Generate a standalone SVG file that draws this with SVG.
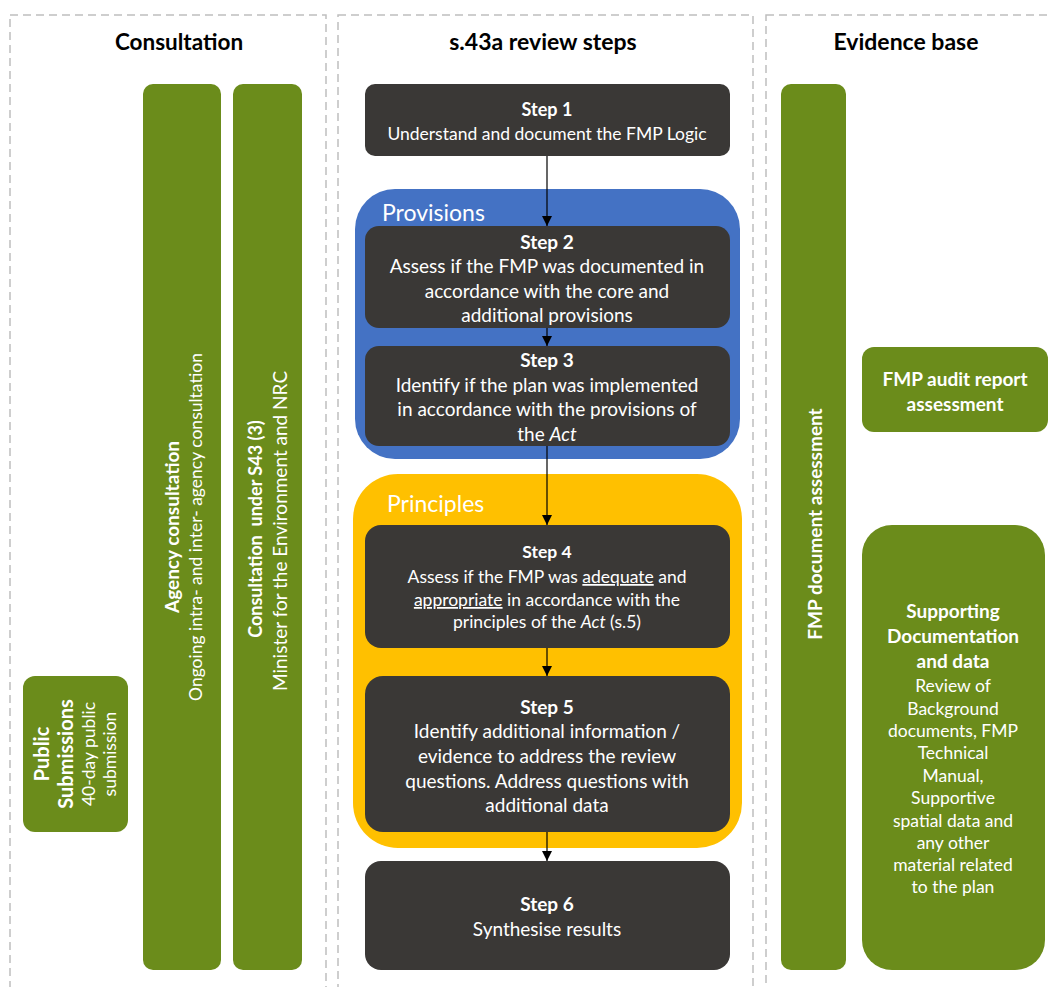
<svg xmlns="http://www.w3.org/2000/svg" width="1049" height="987" viewBox="0 0 1049 987">
<defs>
<style>
.panel{fill:none;stroke:#bfbfbf;stroke-width:1.5;stroke-dasharray:8,5}
.hdr{font-family:Lato,"Open Sans",sans-serif;font-weight:bold;font-size:22.5px;fill:#000;text-anchor:middle}
.green{fill:#6b8c1b}
.dark{fill:#3a3836}
.t{font-family:Lato,"Open Sans",sans-serif;fill:#fff;text-anchor:middle}
.b{font-weight:bold}
.s19{font-size:19px}
.s20{font-size:20px}
.s17{font-size:17.5px}
.lbl{font-family:Lato,"Open Sans",sans-serif;font-size:23px;fill:#fff}
.conn{stroke:#000;stroke-width:1.2;fill:none;marker-end:url(#ah)}
</style>
<marker id="ah" viewBox="0 0 10 10" refX="10" refY="5" markerWidth="10" markerHeight="10" markerUnits="userSpaceOnUse" orient="auto">
<path d="M0,0 L10,5 L0,10 Z" fill="#000"/>
</marker>
</defs>
<rect width="1049" height="987" fill="#fff"/>

<g id="panels">
<rect class="panel" x="10" y="15" width="316" height="990"/>
<rect class="panel" x="338" y="15" width="415" height="990"/>
<rect class="panel" x="766" y="15" width="300" height="990"/>
<text class="hdr" x="179" y="50">Consultation</text>
<text class="hdr" x="543" y="50" style="font-size:23px">s.43a review steps</text>
<text class="hdr" x="906" y="50" style="font-size:23px">Evidence base</text>
</g>

<g id="public-submissions">
<rect class="green" x="23" y="676" width="105" height="156" rx="12"/>
<g transform="translate(75.5,754) rotate(-90)">
<text class="t b s20" x="0" y="-26.5">Public</text>
<text class="t b s20" x="0" y="-2.5">Submissions</text>
<text class="t s17" x="0" y="19.5">40-day public</text>
<text class="t s17" x="0" y="40.5">submission</text>
</g>
</g>

<g id="agency-consultation">
<rect class="green" x="143" y="84" width="78" height="886" rx="10"/>
<g transform="translate(182,527) rotate(-90)">
<text class="t b s19" x="0" y="-3">Agency consultation</text>
<text class="t s17" x="0" y="20">Ongoing intra- and inter- agency consultation</text>
</g>
</g>

<g id="consultation-s43">
<rect class="green" x="233" y="84" width="69" height="886" rx="10"/>
<g transform="translate(267.5,527) rotate(-90)">
<text class="t b" style="font-size:18px" x="-2" y="-5.5" xml:space="preserve">Consultation  under S43 (3)</text>
<text class="t s19" x="-4" y="19.5">Minister for the Environment and NRC</text>
</g>
</g>

<g id="provisions">
<rect x="355" y="189" width="385" height="270" rx="40" fill="#4472c4"/>
<text class="lbl" x="382" y="221">Provisions</text>
</g>

<g id="principles">
<rect x="353" y="474" width="389" height="374" rx="45" fill="#ffc000"/>
<text class="lbl" x="387" y="512">Principles</text>
</g>

<g id="step1">
<rect class="dark" x="365" y="84" width="365" height="72" rx="10"/>
<text class="t b" style="font-size:18px" x="547" y="116">Step 1</text>
<text class="t s17" x="547" y="140">Understand and document the FMP Logic</text>
</g>

<g id="step2">
<rect class="dark" x="365" y="226" width="365" height="102" rx="14"/>
<text class="t b s19" x="547" y="249">Step 2</text>
<text class="t s19" x="547" y="273">Assess if the FMP was documented in</text>
<text class="t s19" x="547" y="298">accordance with the core and</text>
<text class="t s19" x="547" y="322">additional provisions</text>
</g>

<g id="step3">
<rect class="dark" x="365" y="346" width="365" height="100" rx="14"/>
<text class="t b s19" x="547" y="367">Step 3</text>
<text class="t s19" x="547" y="392">Identify if the plan was implemented</text>
<text class="t s19" x="547" y="416">in accordance with the provisions of</text>
<text class="t s19" x="547" y="441">the <tspan font-style="italic">Act</tspan></text>
</g>

<g id="step4">
<rect class="dark" x="365" y="525" width="365" height="123" rx="16"/>
<text class="t b s17" x="547" y="558">Step 4</text>
<text class="t s17" x="547" y="583">Assess if the FMP was <tspan text-decoration="underline">adequate</tspan> and</text>
<text class="t s17" x="547" y="606"><tspan text-decoration="underline">appropriate</tspan> in accordance with the</text>
<text class="t s17" x="547" y="628">principles of the <tspan font-style="italic">Act</tspan> (s.5)</text>
</g>

<g id="step5">
<rect class="dark" x="365" y="676" width="365" height="156" rx="18"/>
<text class="t b s19" x="547" y="714">Step 5</text>
<text class="t s19" x="547" y="738">Identify additional information /</text>
<text class="t s19" x="547" y="763">evidence to address the review</text>
<text class="t s19" x="547" y="788">questions. Address questions with</text>
<text class="t s19" x="547" y="812">additional data</text>
</g>

<g id="step6">
<rect class="dark" x="365" y="861" width="365" height="109" rx="16"/>
<text class="t b s19" x="547" y="911">Step 6</text>
<text class="t s19" x="547" y="936">Synthesise results</text>
</g>

<g id="fmp-document-assessment">
<rect class="green" x="781" y="84" width="65" height="886" rx="10"/>
<g transform="translate(813.5,527) rotate(-90)">
<text class="t b s19" x="3" y="8.5">FMP document assessment</text>
</g>
</g>

<g id="fmp-audit-report">
<rect class="green" x="862" y="347" width="186" height="85" rx="12"/>
<text class="t b s19" x="955" y="386">FMP audit report</text>
<text class="t b s19" x="955" y="411">assessment</text>
</g>

<g id="supporting-documentation">
<rect class="green" x="862" y="525" width="183" height="445" rx="30"/>
<text class="t b s19" x="953" y="618">Supporting</text>
<text class="t b s19" x="953" y="643">Documentation</text>
<text class="t b s19" x="953" y="668">and data</text>
<text class="t s17" x="953" y="692">Review of</text>
<text class="t s17" x="953" y="715">Background</text>
<text class="t s17" x="953" y="737">documents, FMP</text>
<text class="t s17" x="953" y="759">Technical</text>
<text class="t s17" x="953" y="782">Manual,</text>
<text class="t s17" x="953" y="804">Supportive</text>
<text class="t s17" x="953" y="827">spatial data and</text>
<text class="t s17" x="953" y="849">any other</text>
<text class="t s17" x="953" y="871">material related</text>
<text class="t s17" x="953" y="893">to the plan</text>
</g>

<g id="connectors">
<line class="conn" x1="547" y1="156" x2="547" y2="226"/>
<line class="conn" x1="547" y1="328" x2="547" y2="346"/>
<line class="conn" x1="547" y1="446" x2="547" y2="525"/>
<line class="conn" x1="547" y1="648" x2="547" y2="676"/>
<line class="conn" x1="547" y1="832" x2="547" y2="861"/>
</g>
</svg>
